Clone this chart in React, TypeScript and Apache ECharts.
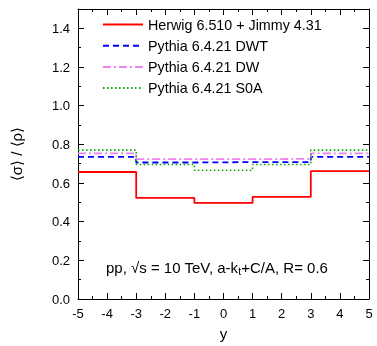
import React, { useEffect, useRef } from "react";
import * as echarts from "echarts";

const binEdges = [-5, -3, -1, 1, 3, 5];
const herwig = [0.657, 0.523, 0.497, 0.528, 0.661];
const pythiaDWT = [0.735, 0.706, 0.708, 0.708, 0.735];
const pythiaDW = [0.753, 0.723, 0.723, 0.725, 0.753];
const pythiaS0A = [0.77, 0.696, 0.666, 0.696, 0.77];
const seriesNames = [
  "Herwig 6.510 + Jimmy 4.31",
  "Pythia 6.4.21 DWT",
  "Pythia 6.4.21 DW",
  "Pythia 6.4.21 S0A",
];

function stepData(vals: number[]) {
  const pts: number[][] = vals.map((v, i) => [binEdges[i], v]);
  pts.push([binEdges[binEdges.length - 1], vals[vals.length - 1]]);
  return pts;
}

const FONT = "Liberation Sans, Arial, sans-serif";

export default function App() {
  const ref = useRef<HTMLDivElement>(null);
  useEffect(() => {
    if (!ref.current) return;
    const chart = echarts.init(ref.current, undefined, { renderer: "svg" });
    const axisCommon = {
      axisLine: { onZero: false, lineStyle: { color: "#000", width: 1 } },
      axisTick: { inside: true, length: 6, lineStyle: { color: "#000" } },
      minorTick: { show: true, splitNumber: 2, length: 3, lineStyle: { color: "#000" } },
      splitLine: { show: false },
    };
    const mk = (name: string, vals: number[], color: string, type: any, width: number) => ({
      name,
      type: "line",
      data: stepData(vals),
      step: "end",
      symbol: "none",
      xAxisIndex: 0,
      yAxisIndex: 0,
      lineStyle: { color, type, width },
      itemStyle: { color },
    });
    chart.setOption({
      animation: false,
      textStyle: { fontFamily: FONT },
      grid: { left: 78, right: 8, top: 9, bottom: 47, outerBoundsMode: "none", containLabel: false },
      legend: {
        orient: "vertical",
        left: 97,
        top: 12.5,
        itemWidth: 40,
        itemHeight: 14,
        itemGap: 7.2,
        itemStyle: { opacity: 0 },
        textStyle: { fontSize: 14.3, color: "#000", fontFamily: FONT },
        data: seriesNames,
      },
      xAxis: [
        {
          type: "value",
          min: -5,
          max: 5,
          interval: 1,
          position: "bottom",
          ...axisCommon,
          axisLabel: { fontSize: 13, color: "#000", margin: 8, fontFamily: FONT },
          name: "y",
          nameLocation: "middle",
          nameGap: 27,
          nameTextStyle: { fontSize: 15, color: "#000", fontFamily: FONT },
        },
        {
          type: "value",
          min: -5,
          max: 5,
          interval: 1,
          position: "top",
          ...axisCommon,
          axisLabel: { show: false },
        },
      ],
      yAxis: [
        {
          type: "value",
          min: 0,
          max: 1.5,
          interval: 0.2,
          position: "left",
          ...axisCommon,
          axisLabel: {
            fontSize: 13,
            color: "#000",
            margin: 8,
            showMaxLabel: false,
            fontFamily: FONT,
            formatter: (v: number) => v.toFixed(1),
          },
          name: "\u27E8\u03C3\u27E9 / \u27E8\u03C1\u27E9",
          nameLocation: "middle",
          nameGap: 54,
          nameTextStyle: { fontSize: 15, color: "#000", fontFamily: FONT },
        },
        {
          type: "value",
          min: 0,
          max: 1.5,
          interval: 0.2,
          position: "right",
          ...axisCommon,
          axisLabel: { show: false },
        },
      ],
      series: [
        mk(seriesNames[0], herwig, "#ff0000", "solid", 1.8),
        mk(seriesNames[1], pythiaDWT, "#0000ff", [6, 4], 1.8),
        mk(seriesNames[2], pythiaDW, "#ee82ee", [8, 3, 2, 3], 1.8),
        mk(seriesNames[3], pythiaS0A, "#00aa00", [1.5, 2.5], 1.6),
      ],
      graphic: [
        {
          type: "text",
          left: 106,
          top: 260,
          style: {
            text: "pp, \u221As = 10 TeV, a-k{sub|t}+C/A, R= 0.6",
            fontSize: 15,
            fontFamily: FONT,
            fill: "#000",
            rich: {
              sub: { fontSize: 10.5, fontFamily: FONT, fill: "#000", padding: [7, 0, 0, 0] },
            },
          },
        },
      ],
    });
    return () => chart.dispose();
  }, []);
  return (
    <div
      ref={ref}
      style={{ position: "fixed", left: 0, top: 0, width: 377, height: 346 }}
    />
  );
}
